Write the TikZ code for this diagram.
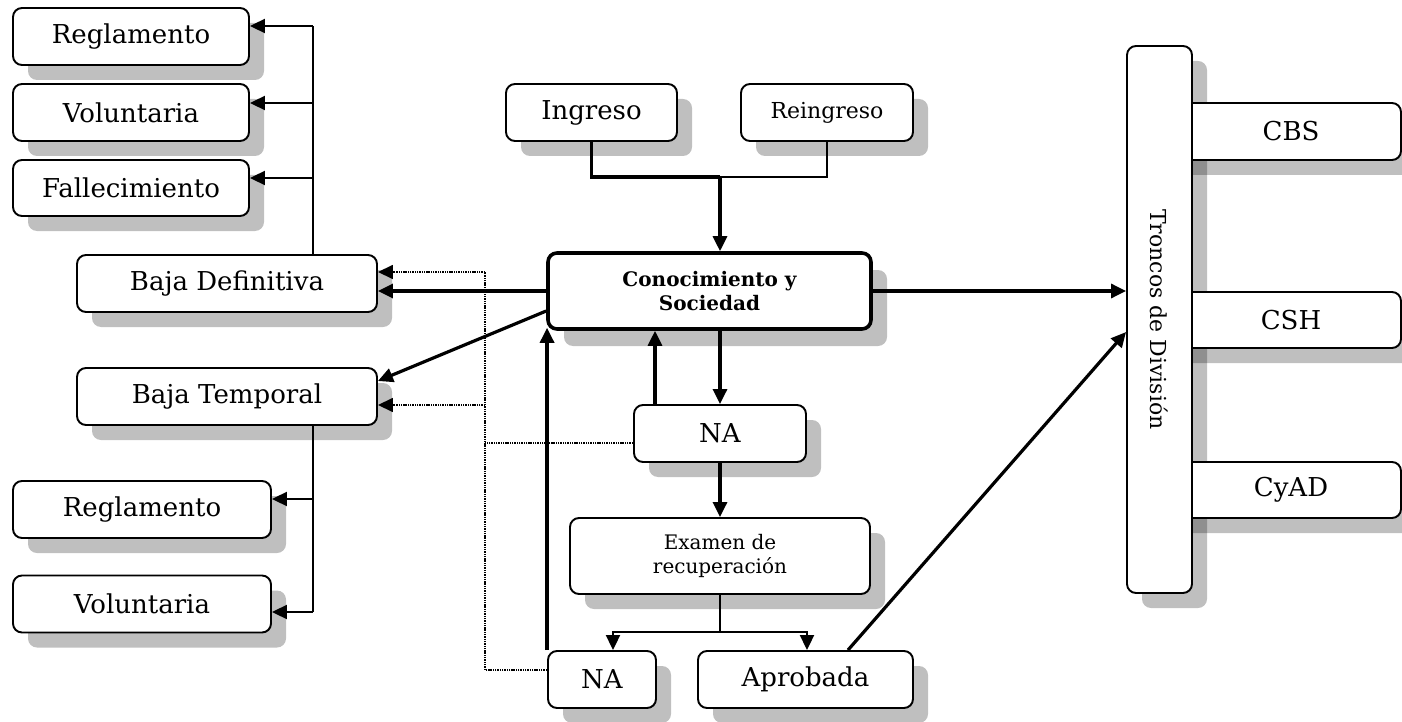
\documentclass[tikz,border=0pt]{standalone}
\usepackage{fontspec}
\usepackage{graphicx}
\setmainfont{DejaVu Serif}
\usetikzlibrary{shadows,arrows.meta,calc}
\begin{document}
\begin{tikzpicture}[x=1pt,y=-1pt,
  plain/.style={draw, fill=white, rounded corners=9pt, line width=1.9pt, inner sep=0pt, align=center,
    font=\fontsize{26}{30}\selectfont},
  bx/.style={plain, drop shadow={shadow xshift=15pt,shadow yshift=-15pt,fill=black,opacity=0.25}},
  ln/.style={line width=2pt},
  tk/.style={line width=3.2pt},
  ar/.style={-{Triangle[length=15pt,width=14pt]}},
  dt/.style={line width=1.6pt, dash pattern=on 1.4pt off 0.9pt}]
\useasboundingbox (0,0) rectangle (1402,722);

% left column
\node[bx, minimum width=236pt, minimum height=57pt] (reg1) at (131,36.5) {Reglamento};
\node[bx, minimum width=236pt, minimum height=57pt] (vol1) at (131,112.5) {Voluntaria};
\node[bx, minimum width=236pt, minimum height=56pt] (fal) at (131,188) {Fallecimiento};
\node[bx, minimum width=300pt, minimum height=57pt] (bdef) at (227,283.5) {Baja Definitiva};
\node[bx, minimum width=300pt, minimum height=57pt] (btem) at (227,396.5) {Baja Temporal};
\node[bx, minimum width=258pt, minimum height=57pt] (reg2) at (142,509.5) {Reglamento};
\node[bx, minimum width=258pt, minimum height=57pt] (vol2) at (142,604) {Voluntaria};

% centre
\node[bx, minimum width=171pt, minimum height=57pt] (ing) at (591.5,112.5) {Ingreso};
\node[bx, minimum width=172pt, minimum height=57pt, font=\fontsize{22}{26}\selectfont] (rein) at (827,112.5) {Reingreso};
\node[plain, line width=3.6pt, minimum width=323pt, minimum height=76pt, font=\fontsize{20}{24}\selectfont\bfseries,
  drop shadow={shadow xshift=16pt,shadow yshift=-17pt,fill=black,opacity=0.25}] (con) at (709.5,291) {Conocimiento y\\Sociedad};
\node[bx, minimum width=172pt, minimum height=57pt] (na1) at (720,433.5) {NA};
\node[bx, minimum width=300pt, minimum height=76pt, font=\fontsize{20}{24}\selectfont] (exam) at (720,556) {Examen de\\recuperación};
\node[bx, minimum width=108pt, minimum height=57pt] (na2) at (602,679.5) {NA};
\node[bx, minimum width=215pt, minimum height=57pt] (apr) at (805.5,679.5) {Aprobada};

% right column
\fill[black, opacity=0.25, rounded corners=9pt] (1142,61) rectangle (1207,608);
\node[bx, minimum width=241pt, minimum height=57pt] (cbs) at (1280.5,131.5) {\hspace*{21pt}CBS};
\node[bx, minimum width=241pt, minimum height=56pt] (csh) at (1280.5,320) {\hspace*{21pt}CSH};
\node[bx, minimum width=241pt, minimum height=56pt] (cyad) at (1280.5,490) {\hspace*{21pt}CyAD};
\node[plain, minimum width=65pt, minimum height=547pt, font=\fontsize{22}{26}\selectfont] (tro) at (1159.5,319.5)
  {\rotatebox{-90}{Troncos de División}};

% left upper branches
\coordinate (ltop) at (313,26);
\draw[ln] (bdef.north -| ltop) -- (ltop);
\coordinate (r1a) at ([yshift=10.5pt]reg1.east);
\coordinate (v1a) at ([yshift=9.5pt]vol1.east);
\coordinate (f1a) at ([yshift=10pt]fal.east);
\draw[ln,ar] (r1a -| ltop) -- (r1a);
\draw[ln,ar] (v1a -| ltop) -- (v1a);
\draw[ln,ar] (f1a -| ltop) -- (f1a);

% left lower branches
\coordinate (r2a) at ([yshift=10.5pt]reg2.east);
\coordinate (v2a) at ([yshift=-8pt]vol2.east);
\draw[ln] (btem.south -| ltop) -- (v2a -| ltop);
\draw[ln,ar] (r2a -| ltop) -- (r2a);
\draw[ln,ar] (v2a -| ltop) -- (v2a);

% ingreso / reingreso
\coordinate (jn) at (720,177);
\draw[tk] (ing.south) |- (jn);
\draw[ln] (jn) -| (rein.south);
\draw[tk,ar] (jn) -- (jn |- con.north);

% conocimiento outputs
\draw[tk,ar] (con.west) -- (con.west -| bdef.east);
\draw[tk,ar] ([yshift=-20pt]con.west) -- ([yshift=15.5pt]btem.east);
\draw[tk,ar] (con.east) -- (con.east -| tro.west);

% NA loop
\draw[tk,ar] (na1.north |- con.south) -- (na1.north);
\coordinate (n1u) at ([xshift=-65pt]na1.north);
\draw[tk,ar] (n1u) -- (n1u |- con.south);
\draw[tk,ar] (na1.south) -- (exam.north);

% examen split
\coordinate (sp) at (exam.south |- 0,632);
\coordinate (spl) at (613,632);
\coordinate (spr) at (807,632);
\draw[ln] (exam.south) -- (sp);
\draw[ln,ar] (sp) -- (spl) -- (spl |- na2.north);
\draw[ln,ar] (sp) -- (spr) -- (spr |- apr.north);

% returns
\draw[tk,ar,shorten >=-3pt] (na2.north west) -- (na2.north west |- con.south);
\draw[tk,ar] ([xshift=42.5pt]apr.north) -- ([yshift=-12.5pt]tro.west);

% dotted network
\coordinate (dtop) at (485,272);
\coordinate (n2w) at ([yshift=9.5pt]na2.west);
\coordinate (n1w) at ([yshift=-9.5pt]na1.west);
\coordinate (btd) at ([yshift=-8.5pt]btem.east);
\draw[dt] (n2w) -| (dtop);
\draw[dt] (n1w) -- (n1w -| dtop);
\draw[dt,ar] (dtop) -- (dtop -| bdef.east);
\draw[dt,ar] (btd -| dtop) -- (btd);
\end{tikzpicture}
\end{document}
